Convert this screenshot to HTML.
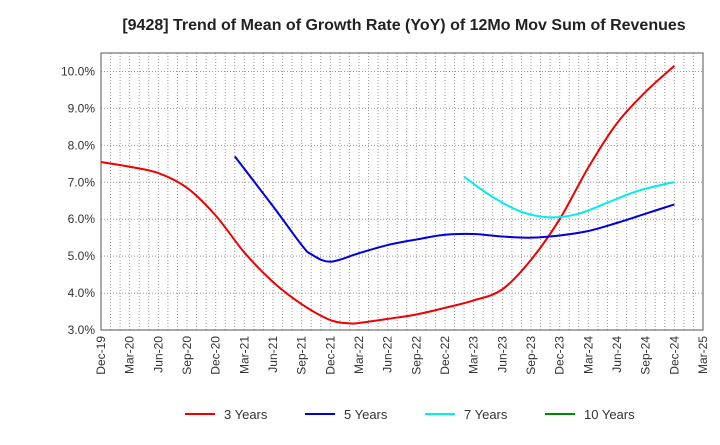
<!DOCTYPE html>
<html><head><meta charset="utf-8"><style>
body{margin:0;background:#fff;font-family:"Liberation Sans",sans-serif}
svg text{font-family:"Liberation Sans",sans-serif}
</style></head><body>
<svg id="c" width="720" height="440" xmlns="http://www.w3.org/2000/svg">
<text x="404" y="30" text-anchor="middle" font-size="16" font-weight="bold" fill="#222">[9428]  Trend of Mean of Growth Rate (YoY) of 12Mo Mov Sum of Revenues</text>
<g id="grid"></g><g id="axes"></g><g id="series"></g><g id="legend"></g>
</svg>
<script>
const xLabels=["Dec-19","Mar-20","Jun-20","Sep-20","Dec-20","Mar-21","Jun-21","Sep-21","Dec-21","Mar-22","Jun-22","Sep-22","Dec-22","Mar-23","Jun-23","Sep-23","Dec-23","Mar-24","Jun-24","Sep-24","Dec-24","Mar-25"];
const yTicks=[3,4,5,6,7,8,9,10];
const months3=[0,3,6,9,12,15,18,21,24,26,27,30,33,36,39,42,45,48,51,54,57,60];
const vals3=[7.55,7.42,7.25,6.85,6.1,5.1,4.3,3.7,3.27,3.18,3.19,3.3,3.42,3.6,3.8,4.1,4.9,6.0,7.4,8.6,9.45,10.15];
const months5=[14,18,21,22,24,27,30,33,36,39,42,45,48,51,54,57,60];
const vals5=[7.7,6.35,5.3,5.05,4.85,5.08,5.3,5.45,5.58,5.6,5.53,5.5,5.56,5.68,5.9,6.15,6.4];
const months7=[38,41,44,47,50,53,56,59,60];
const vals7=[7.15,6.6,6.2,6.05,6.15,6.45,6.75,6.95,7.0];
const L=101,R=703,T=53,B=330,NM=63,YMIN=3,YMAX=10.5;
const X=m=>L+(R-L)*m/NM;
const Y=v=>B-(B-T)*(v-YMIN)/(YMAX-YMIN);
const NS="http://www.w3.org/2000/svg";
function mk(t,a,p){const e=document.createElementNS(NS,t);for(const k in a)e.setAttribute(k,a[k]);p.appendChild(e);return e;}
const grid=document.getElementById('grid'),axes=document.getElementById('axes'),ser=document.getElementById('series'),leg=document.getElementById('legend');
for(let m=1;m<NM;m++){const l=mk('line',{x1:X(m),x2:X(m),y1:T,y2:B,stroke:'#999','stroke-dasharray':'1,2','stroke-width':1},grid);

}
for(let v=4;v<=10;v+=1){const l=mk('line',{x1:L,x2:R,y1:Y(v),y2:Y(v),stroke:'#999','stroke-dasharray':'1,2','stroke-width':1},grid);

}
const fr=mk('rect',{x:L,y:T,width:R-L,height:B-T,fill:'none',stroke:'#555','stroke-width':1},axes);


yTicks.forEach(v=>{const t=mk('text',{x:L-6,y:Y(v)+4,'text-anchor':'end','font-size':12,fill:'#333'},axes);t.textContent=v.toFixed(1)+'%';

});
xLabels.forEach((s,i)=>{const x=X(i*3);const t=mk('text',{x:x+4,y:B+6,'text-anchor':'end','font-size':12,fill:'#333',transform:`rotate(-90 ${x+4} ${B+6})`},axes);t.textContent=s;

});
function path(ms,vs){const p=ms.map((m,i)=>[X(m),Y(vs[i])]);let d=`M${p[0][0]},${p[0][1]}`;
for(let i=0;i<p.length-1;i++){const p0=p[i-1]||p[i],p1=p[i],p2=p[i+1],p3=p[i+2]||p2;
d+=` C${p1[0]+(p2[0]-p0[0])/6},${p1[1]+(p2[1]-p0[1])/6} ${p2[0]-(p3[0]-p1[0])/6},${p2[1]-(p3[1]-p1[1])/6} ${p2[0]},${p2[1]}`;}return d;}
[[months3,vals3,'#e00','line-3-years'],[months5,vals5,'#00d','line-5-years'],[months7,vals7,'#0ee','line-7-years']].forEach(s=>{
const e=mk('path',{d:path(s[0],s[1]),fill:'none',stroke:s[2],'stroke-width':2},ser);

});
[['3 Years','#e00',185],['5 Years','#00d',305],['7 Years','#0ee',425],['10 Years','#080',545]].forEach(l=>{
const g=mk('g',{},leg);


mk('line',{x1:l[2],x2:l[2]+30,y1:414,y2:414,stroke:l[1],'stroke-width':2},g);
const t=mk('text',{x:l[2]+39,y:419,'font-size':13,fill:'#333'},g);t.textContent=l[0];});
</script>
</body></html>
